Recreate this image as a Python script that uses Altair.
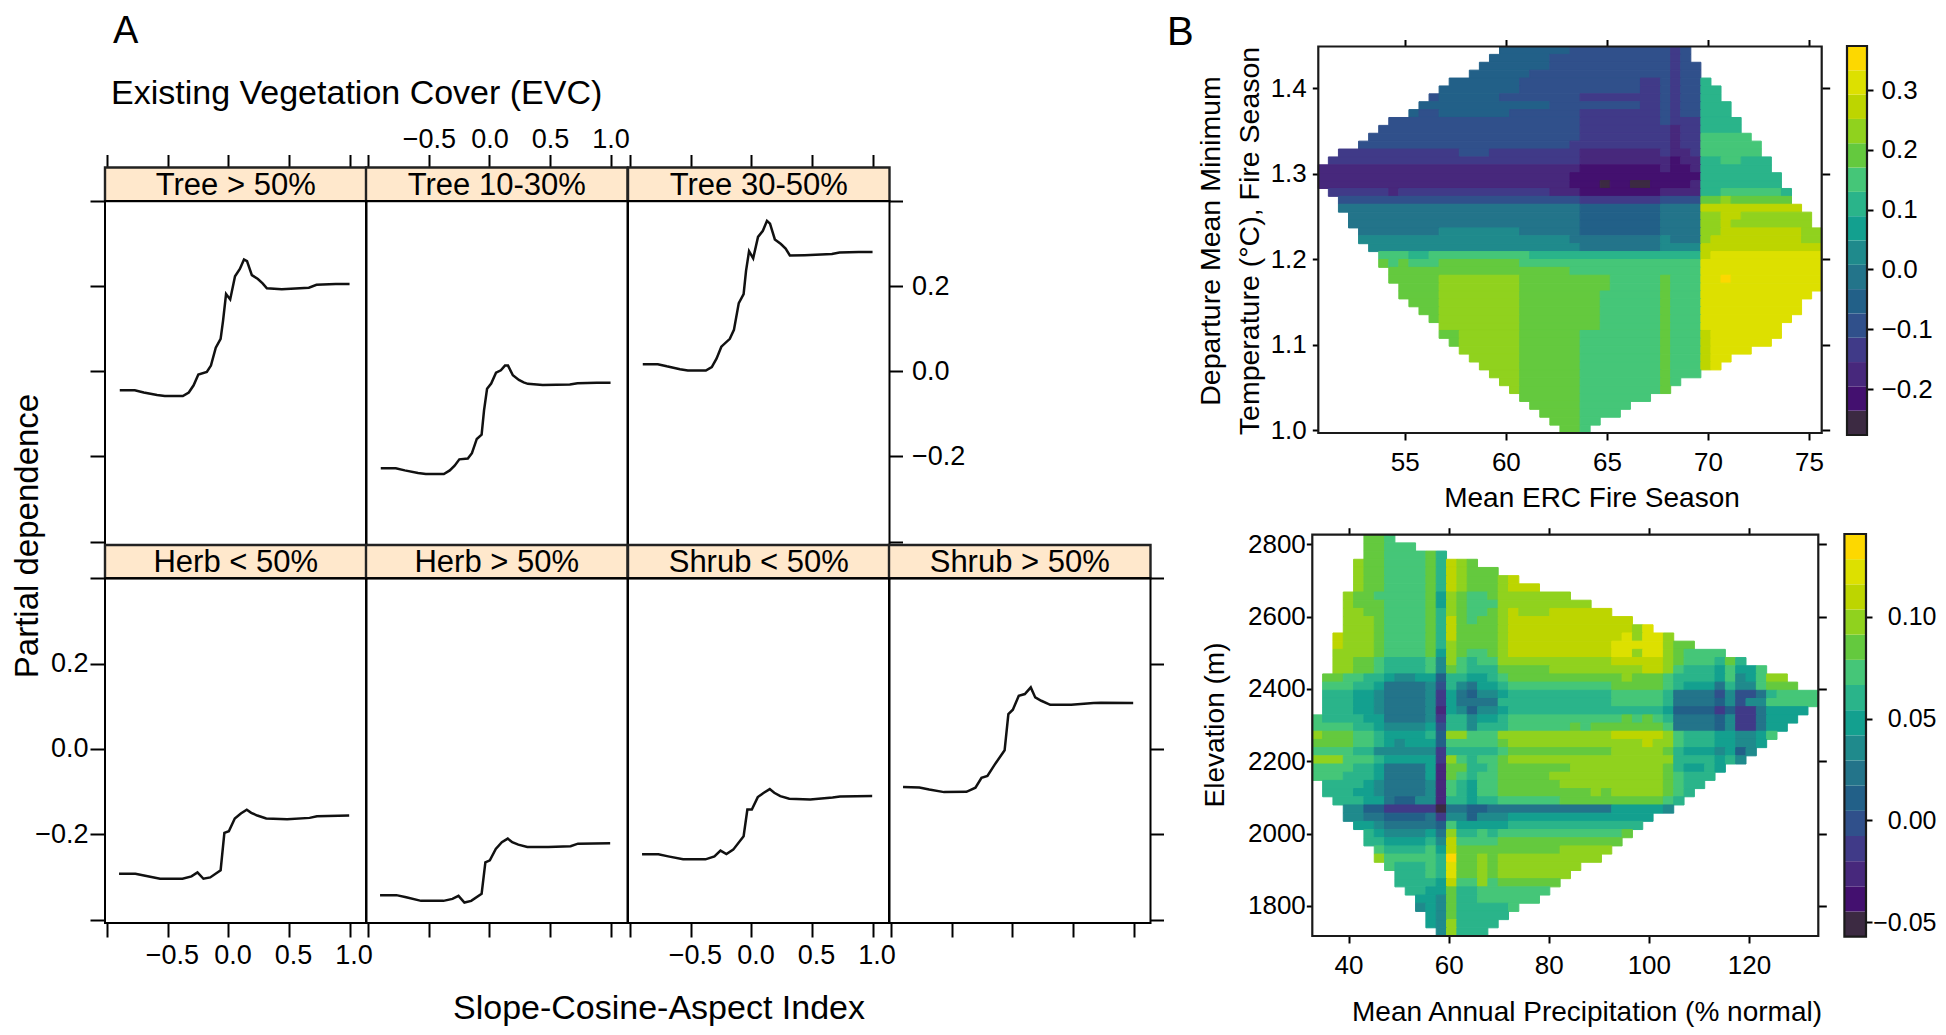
import altair as alt
import pandas as pd

# ---------- panel A: partial dependence curves ----------
tree_x = [-0.898,-0.774,-0.70,-0.59,-0.526,-0.377,-0.328,-0.288,-0.249,-0.179,-0.145,-0.105,-0.065,-0.045,-0.02,0.014,0.054,0.094,0.128,0.153,0.193,0.243,0.282,0.317,0.44,0.664,0.727,0.886,1.0]
tree_gt50 = [-0.0445,-0.0445,-0.0496,-0.0555,-0.058,-0.058,-0.0496,-0.0327,-0.0075,-0.0016,0.0136,0.0555,0.0765,0.1186,0.1816,0.169,0.2235,0.2405,0.263,0.2588,0.226,0.217,0.2068,0.195,0.193,0.1967,0.2033,0.205,0.205]
tree_10_30 = [-0.2277,-0.2277,-0.2327,-0.2386,-0.2411,-0.2411,-0.2327,-0.2218,-0.2067,-0.205,-0.1924,-0.1588,-0.1487,-0.0915,-0.0411,-0.0285,-0.0033,0.0026,0.0135,0.0135,-0.0092,-0.0202,-0.0261,-0.0294,-0.032,-0.0311,-0.0277,-0.0269,-0.0269]
tree_30_50 = [0.0169,0.0169,0.0118,0.0051,0.0018,0.0018,0.0101,0.0303,0.058,0.0765,0.0975,0.1605,0.1816,0.2362,0.2824,0.2656,0.316,0.3303,0.3538,0.3471,0.3101,0.2992,0.2883,0.2723,0.2731,0.2757,0.279,0.2807,0.2807]
low_x = [-0.904,-0.769,-0.688,-0.565,-0.38,-0.306,-0.256,-0.207,-0.151,-0.065,-0.034,0.003,0.052,0.102,0.151,0.188,0.238,0.312,0.485,0.67,0.731,0.997]
herb_lt50 = [-0.2925,-0.2925,-0.2973,-0.3043,-0.3043,-0.2988,-0.2894,-0.3043,-0.3012,-0.2847,-0.1969,-0.1929,-0.1631,-0.1514,-0.1427,-0.1498,-0.1561,-0.1631,-0.1647,-0.1616,-0.1576,-0.1561]
herb_gt50 = [-0.3427,-0.3427,-0.3475,-0.3561,-0.3561,-0.3514,-0.3443,-0.36,-0.3561,-0.3396,-0.2659,-0.2612,-0.2345,-0.2188,-0.2102,-0.2188,-0.2243,-0.2298,-0.2298,-0.2282,-0.222,-0.2212]
shrub_lt50 = [-0.2471,-0.2471,-0.2518,-0.2588,-0.2588,-0.2518,-0.2384,-0.2463,-0.2361,-0.2047,-0.142,-0.142,-0.1129,-0.1027,-0.0941,-0.1027,-0.1106,-0.1169,-0.1184,-0.1137,-0.1114,-0.1106]
shrub_gt50 = [-0.0894,-0.0902,-0.0949,-0.1012,-0.1004,-0.091,-0.0675,-0.0635,-0.0384,-0.0031,0.0816,0.0918,0.1247,0.1286,0.1443,0.1208,0.1129,0.1035,0.1035,0.1075,0.1082,0.1075]

top_labels = ["Tree > 50%", "Tree 10-30%", "Tree 30-50%"]
bottom_labels = ["Herb < 50%", "Herb > 50%", "Shrub < 50%", "Shrub > 50%"]
x_ticks = [-1.0, -0.5, 0.0, 0.5, 1.0]
y_ticks = [-0.4, -0.2, 0.0, 0.2, 0.4]

# ---------- panel B: level rows, "start:level" runs, "." ends the row ----------
erc_rows = [
"18:5 25:4 35:3 36:4 37:.",
"17:5 23:4 35:3 36:4 37:.",
"16:5 23:4 35:3 36:4 38:.",
"15:5 21:4 35:3 36:4 38:.",
"13:5 20:4 32:3 34:4 35:3 36:4 38:9 39:.",
"12:5 20:4 32:3 34:4 35:3 36:4 38:9 40:.",
"11:4 12:5 18:4 26:3 34:4 35:3 36:4 38:9 40:.",
"10:5 23:4 32:3 34:4 35:3 36:4 38:9 41:.",
"9:5 10:4 12:5 19:4 26:3 34:4 35:3 36:4 38:9 41:.",
"7:4 26:3 34:4 35:3 38:9 42:.",
"6:4 26:3 35:2 36:3 38:9 42:.",
"5:4 26:3 35:2 36:3 38:a 43:.",
"4:4 25:3 35:2 36:3 38:a 44:.",
"2:3 14:4 17:3 26:2 34:3 35:2 37:3 38:a 44:.",
"1:3 26:2 35:1 36:2 38:9 40:a 42:9 45:.",
"0:2 26:1 34:2 35:1 37:2 38:9 45:.",
"0:2 25:1 38:9 46:.",
"0:2 25:1 28:0 29:1 31:0 33:1 37:2 38:9 46:.",
"1:3 7:2 8:3 23:2 26:1 34:2 38:9 40:a 46:9 47:.",
"2:4 26:3 34:4 38:b 40:c 41:b 47:.",
"2:6 26:5 34:6 38:d 48:.",
"3:6 26:5 34:6 38:c 40:d 42:c 49:.",
"3:6 26:5 34:6 38:c 40:d 41:c 49:.",
"4:6 12:7 20:6 26:5 34:6 38:c 40:d 48:c 50:.",
"4:7 25:6 34:7 35:6 38:c 39:d 48:c 50:.",
"5:7 26:6 34:7 38:d 50:.",
"6:a 9:9 11:a 21:9 38:d 39:e 50:.",
"6:b 7:a 8:b 9:a 12:b 20:a 38:e 50:.",
"7:b 25:a 38:e 50:.",
"7:b 12:c 20:b 29:a 34:b 35:a 38:e 40:f 41:e 50:.",
"8:b 12:c 20:b 29:a 34:b 35:a 38:e 50:.",
"8:b 12:c 20:b 28:a 34:b 35:a 38:e 49:.",
"9:b 12:c 20:b 28:a 34:b 35:a 38:e 48:.",
"10:b 12:c 20:b 28:a 34:b 35:a 38:e 48:.",
"11:b 12:c 20:b 28:a 34:b 35:a 38:e 47:.",
"12:c 20:b 28:a 34:b 35:a 38:e 46:.",
"12:b 14:c 20:b 26:a 34:b 35:a 38:d 39:e 46:.",
"13:b 14:c 20:b 26:a 34:b 35:a 38:d 39:e 45:.",
"14:c 20:b 26:a 34:b 35:a 38:d 39:e 43:.",
"15:c 20:b 26:a 34:b 35:a 38:d 39:e 41:.",
"16:c 20:b 26:a 34:b 35:a 38:d 39:e 40:.",
"17:c 20:b 26:a 34:b 35:a 38:.",
"18:c 20:b 26:a 34:b 35:a 36:.",
"19:c 20:b 26:a 34:b 35:.",
"20:b 26:a 33:.",
"21:b 26:a 31:.",
"22:b 26:a 30:.",
"23:b 26:a 28:.",
"24:b 26:a 27:.",
]
precip_rows = [
"5:b 7:a 8:.",
"5:b 7:a 10:.",
"5:b 7:a 11:b 12:9 13:.",
"4:c 5:b 7:a 11:b 12:9 13:d 14:c 15:b 16:.",
"4:c 5:b 7:a 11:b 12:9 13:d 14:c 15:b 18:.",
"4:c 5:b 7:a 11:b 12:9 13:d 14:c 15:b 18:c 19:d 20:.",
"4:c 5:b 7:a 11:b 12:9 13:d 14:c 15:b 18:c 19:d 22:.",
"3:c 4:b 6:a 11:b 12:8 13:c 14:b 15:a 17:b 18:c 25:.",
"3:c 4:b 7:a 11:b 12:8 13:c 14:b 15:a 18:c 27:.",
"3:c 5:b 7:a 11:b 12:9 13:c 14:b 15:a 17:b 18:c 19:d 20:c 23:d 29:.",
"3:c 6:b 7:a 11:b 12:9 13:d 14:b 15:a 16:b 18:c 19:d 31:.",
"3:c 6:b 7:a 11:b 12:9 13:d 14:b 18:c 19:d 31:c 32:e 33:.",
"2:d 3:c 6:b 7:a 11:b 12:9 13:d 14:b 18:c 19:d 30:e 31:c 32:e 34:c 35:.",
"2:d 3:c 6:b 7:a 11:b 12:9 13:c 14:b 18:c 19:d 29:e 34:c 35:b 37:.",
"2:c 6:b 7:a 11:b 12:8 13:c 14:b 15:a 17:b 18:c 19:d 29:e 31:c 32:e 34:c 35:b 36:a 40:.",
"2:c 4:b 6:a 7:9 11:a 12:7 13:c 14:a 15:9 16:a 18:c 29:d 34:c 35:b 36:a 39:9 40:b 41:9 42:.",
"2:c 4:b 6:a 7:9 11:a 12:7 13:b 14:a 15:9 18:b 23:c 32:d 34:c 35:a 36:9 39:8 40:a 41:8 43:a 44:.",
"1:b 3:a 5:9 7:8 8:7 10:8 12:5 13:9 15:8 17:9 18:a 19:b 30:c 31:b 34:a 35:9 39:8 40:a 41:7 42:8 43:a 44:c 46:.",
"1:a 4:9 6:8 7:6 11:7 12:4 13:9 14:7 15:6 16:8 18:9 19:a 29:b 34:a 35:9 36:8 39:6 40:9 41:7 43:a 44:b 47:.",
"1:9 4:8 6:7 7:6 11:7 12:3 13:8 14:6 15:5 16:7 18:8 19:9 29:a 34:9 35:6 39:4 40:7 41:4 43:6 44:9 45:a 49:.",
"1:9 4:8 6:7 7:6 11:7 12:3 13:8 14:6 18:9 29:a 34:9 35:6 39:5 40:7 41:4 42:7 44:a 49:.",
"1:9 4:8 6:7 7:6 11:7 12:2 13:8 14:7 15:5 16:7 18:8 19:9 34:8 35:5 39:3 40:5 41:3 43:6 44:8 48:.",
"0:a 1:9 5:8 7:6 11:7 12:3 13:9 15:7 16:8 18:9 19:a 30:b 31:a 32:b 33:a 34:9 35:6 39:5 40:7 41:3 43:6 44:8 47:.",
"0:a 4:9 6:8 7:7 11:8 12:4 13:9 15:7 16:9 19:a 25:b 26:a 27:b 34:a 35:6 39:5 40:7 41:3 43:6 44:8 46:.",
"0:c 1:b 4:a 6:9 7:8 11:9 12:5 13:c 15:a 18:c 29:d 34:c 35:a 36:9 39:8 41:7 43:8 44:a 45:.",
"0:b 4:a 6:9 7:8 8:7 9:8 12:5 13:a 18:b 19:c 32:d 33:c 35:a 36:9 39:8 41:7 43:8 44:.",
"0:a 4:9 6:7 12:3 13:9 18:a 19:b 29:c 34:b 35:9 36:8 39:7 40:8 41:5 42:7 43:.",
"0:c 3:a 6:9 7:8 12:3 13:c 14:a 15:9 16:a 18:b 19:c 35:9 39:8 40:9 41:7 42:.",
"0:a 4:9 6:8 7:6 11:8 12:2 13:b 15:9 17:a 18:b 25:c 34:b 35:9 36:8 38:9 39:8 40:.",
"0:a 3:9 6:8 7:6 11:8 12:2 13:b 14:a 15:9 16:a 18:b 23:c 34:b 35:a 36:9 39:.",
"1:9 5:8 6:7 7:6 11:7 12:2 13:a 14:9 15:8 16:a 18:b 24:c 34:b 35:a 36:9 38:.",
"1:9 4:8 6:7 7:6 11:7 12:2 13:a 14:9 15:8 16:a 18:b 27:c 28:b 29:c 34:b 35:a 36:9 37:.",
"2:9 5:8 7:6 8:5 10:7 12:2 13:9 15:8 16:9 18:a 24:b 34:a 35:9 36:.",
"3:7 5:5 7:3 12:0 13:6 15:5 17:6 29:8 34:7 35:.",
"3:7 5:6 7:5 11:6 12:3 13:7 15:5 16:7 19:8 33:.",
"4:8 6:7 7:6 12:5 13:a 14:8 19:9 32:.",
"5:9 6:8 7:7 11:8 12:6 13:c 14:9 16:a 17:9 18:a 30:b 31:.",
"5:9 7:8 11:9 12:7 13:d 14:a 18:b 30:.",
"6:a 7:9 11:a 12:8 13:d 14:b 24:c 29:.",
"6:c 7:a 12:9 13:f 14:b 16:c 17:b 18:c 28:.",
"7:a 8:9 11:a 12:9 13:e 14:b 16:c 17:b 18:c 26:.",
"8:9 11:a 12:9 13:e 14:b 16:c 17:b 18:c 25:.",
"8:9 12:8 13:d 14:a 16:c 17:a 18:b 24:.",
"9:9 11:8 13:b 14:9 16:a 23:.",
"10:8 12:7 13:b 14:9 16:a 22:.",
"10:7 11:8 12:7 13:b 14:9 19:a 20:.",
"11:8 12:7 13:b 14:9 19:.",
"11:8 12:7 13:c 14:9 18:.",
"12:7 13:c 14:9 17:.",
]
level_keys = list("0123456789abcdef")
level_colors = ["#3c2a42","#43106f","#47287c","#403a88","#30508b","#226088","#23748a","#1f8a8c",
                "#13a08f","#2ab48a","#45c678","#64c93e","#90d21e","#bdd500","#dde000","#fdd800"]

erc_limits = [50.72, 75.63]
dep_limits = [0.997, 1.449]
precip_limits = [32.76, 133.86]
elev_limits = [1717.0, 2826.5]
bar1_limits = [-0.2769, 0.3736]
bar2_limits = [-0.057, 0.1405]

# pixel frames (page coordinates)
W, H = 1930, 1019
def px(v): return v - 8
col_left = [105, 366, 628, 889]
panel_w = 261.5
TOP = (167.5, 545)      # strip top, panel bottom
BOT = (545, 923)
FONT = "Liberation Sans"

axis_common = dict(grid=False, domain=False, tickColor="black", tickWidth=2, labelColor="black",
                   labelFont=FONT, labelOverlap=False, labelBound=False, labelFlush=False, title=None)

def panel(xs, ys, label, col, top_row):
    x_dom = [-1.02, 1.14]
    y_dom = [-0.408, 0.479 if top_row else 0.478]
    left = col_left[col]
    rng = TOP if top_row else BOT
    xs_scale = alt.Scale(domain=x_dom, range=[px(left), px(left + panel_w)], nice=False, zero=False)
    ys_scale = alt.Scale(domain=y_dom, range=[px(rng[1]), px(rng[0])], nice=False, zero=False)
    line_df = pd.DataFrame({"x": xs, "y": ys})
    strip_lo = 0.4
    box = pd.DataFrame([dict(x0=x_dom[0], x1=x_dom[1], y0=y_dom[0], y1=strip_lo)])
    strip = pd.DataFrame([dict(x0=x_dom[0], x1=x_dom[1], y0=strip_lo, y1=y_dom[1], label=label,
                               xm=(x_dom[0] + x_dom[1]) / 2, ym=(strip_lo + y_dom[1]) / 2 - 0.004)])
    if top_row:
        x_axis = alt.Axis(orient="top", offset=-px(rng[0]), values=x_ticks, tickSize=13, format=".1f",
                          labels=(col == 1), labelFontSize=27, labelPadding=1,
                          labelExpr="datum.value < -0.9 ? '' : datum.label", **axis_common)
    else:
        x_axis = alt.Axis(orient="bottom", offset=-(H - px(rng[1])), values=x_ticks, tickSize=14, format=".1f",
                          labels=(col in (0, 2)), labelFontSize=27, labelPadding=5, labelOffset=4,
                          labelExpr="datum.value < -0.9 ? '' : datum.label", **axis_common)
    y_axis = None
    if top_row and col == 2:
        y_axis = alt.Axis(orient="right", offset=-(W - px(left + panel_w)), values=y_ticks, tickSize=13, format=".1f",
                          labelFontSize=27, labelPadding=9,
                          labelExpr="abs(datum.value) > 0.3 ? '' : datum.label", **axis_common)
    elif (not top_row) and col == 3:
        y_axis = alt.Axis(orient="right", offset=-(W - px(left + panel_w)), values=y_ticks, tickSize=13,
                          labels=False, **axis_common)
    elif col == 0:
        y_axis = alt.Axis(orient="left", offset=-px(left), values=y_ticks, tickSize=15, format=".1f",
                          labels=not top_row, labelFontSize=27, labelPadding=2,
                          labelExpr="abs(datum.value) > 0.3 ? '' : datum.label", **axis_common)
    layers = []
    layers.append(alt.Chart(strip).mark_rect(fill="#ffe8cc", stroke="#222222", strokeWidth=2.4).encode(
        x=alt.X("x0:Q", scale=xs_scale, axis=x_axis), x2="x1:Q",
        y=alt.Y("y0:Q", scale=ys_scale, axis=y_axis), y2="y1:Q"))
    layers.append(alt.Chart(box).mark_rect(fill="white", fillOpacity=0, stroke="black", strokeWidth=2).encode(
        x=alt.X("x0:Q", scale=xs_scale, axis=None), x2="x1:Q",
        y=alt.Y("y0:Q", scale=ys_scale, axis=None), y2="y1:Q"))
    layers.append(alt.Chart(line_df).mark_line(color="#111111", strokeWidth=2.5).encode(
        x=alt.X("x:Q", scale=xs_scale, axis=None),
        y=alt.Y("y:Q", scale=ys_scale, axis=None)))
    layers.append(alt.Chart(strip).mark_text(font=FONT, fontSize=31, color="black", baseline="middle").encode(
        x=alt.X("xm:Q", scale=xs_scale, axis=None),
        y=alt.Y("ym:Q", scale=ys_scale, axis=None), text="label:N"))
    return layers

def expand(rows, xlim, ylim, ncol):
    out = []
    xstep = (xlim[1] - xlim[0]) / ncol
    ystep = (ylim[1] - ylim[0]) / len(rows)
    for r, row in enumerate(rows):
        parts = [p.split(":") for p in row.split()]
        for (a, lev), (b, _) in zip(parts[:-1], parts[1:]):
            out.append(dict(x0=xlim[0] + int(a) * xstep, x1=xlim[0] + int(b) * xstep,
                            y1=ylim[1] - r * ystep, y0=ylim[1] - (r + 1) * ystep, level=lev))
    return pd.DataFrame(out)

lev_scale = alt.Scale(domain=level_keys, range=level_colors)

def heat(rows, xlim, ylim, ncol, frame, xvals, yvals, bar_frame, bar_lim, bar_vals, bar_fmt, ypad, xlab_fmt, ylab_fmt, tsize, bar_axis):
    l, r, t, b = frame
    xs = alt.Scale(domain=xlim, range=[px(l), px(r)], nice=False, zero=False)
    ys = alt.Scale(domain=ylim, range=[px(b), px(t)], nice=False, zero=False)
    cells = expand(rows, xlim, ylim, ncol)
    box = pd.DataFrame([dict(x0=xlim[0], x1=xlim[1], y0=ylim[0], y1=ylim[1])])
    layers = [
        alt.Chart(cells).mark_rect(strokeWidth=1).encode(
            x=alt.X("x0:Q", scale=xs, axis=alt.Axis(orient="bottom", offset=-(H - px(b)), values=xvals, tickSize=7,
                    format=xlab_fmt, labelFontSize=tsize, labelPadding=9, **axis_common)), x2="x1:Q",
            y=alt.Y("y0:Q", scale=ys, axis=alt.Axis(orient="left", offset=-px(l), values=yvals, tickSize=6,
                    format=ylab_fmt, labelFontSize=tsize, labelPadding=ypad, **axis_common)), y2="y1:Q",
            fill=alt.Fill("level:N", scale=lev_scale, legend=None),
            stroke=alt.Stroke("level:N", scale=lev_scale, legend=None)),
        alt.Chart(box).mark_rect(fill="white", fillOpacity=0, stroke="#1a1a1a", strokeWidth=2.2).encode(
            x=alt.X("x0:Q", scale=xs, axis=alt.Axis(orient="top", offset=-px(t), values=xvals, tickSize=7, labels=False, **axis_common)),
            x2="x1:Q",
            y=alt.Y("y0:Q", scale=ys, axis=alt.Axis(orient="right", offset=-(W - px(r)), values=yvals, tickSize=8, labels=False, **axis_common)),
            y2="y1:Q"),
    ]
    bl, br, bt, bb = bar_frame
    step = (bar_lim[1] - bar_lim[0]) / len(level_keys)
    bar = pd.DataFrame([dict(y0=bar_lim[0] + i * step, y1=bar_lim[0] + (i + 1) * step, level=k)
                        for i, k in enumerate(level_keys)])
    bs = alt.Scale(domain=bar_lim, range=[px(bb), px(bt)], nice=False, zero=False)
    bar_box = pd.DataFrame([dict(y0=bar_lim[0], y1=bar_lim[1])])
    layers.append(alt.Chart(bar).mark_rect().encode(
        x=alt.value(px(bl)), x2=alt.value(px(br)),
        y=alt.Y("y0:Q", scale=bs, axis=alt.Axis(orient="right", offset=-(W - px(br)), values=bar_vals, tickSize=6,
                format=bar_fmt, **bar_axis, **axis_common)), y2="y1:Q",
        fill=alt.Fill("level:N", scale=lev_scale, legend=None)))
    layers.append(alt.Chart(bar_box).mark_rect(fill="white", fillOpacity=0, stroke="#1a1a1a", strokeWidth=2.2).encode(
        x=alt.value(px(bl)), x2=alt.value(px(br)),
        y=alt.Y("y0:Q", scale=bs, axis=None), y2="y1:Q"))
    return layers

def label(text, x, y, size, angle=0, align="center"):
    return alt.Chart(pd.DataFrame({"t": [text]})).mark_text(
        font=FONT, fontSize=size, angle=angle, align=align, baseline="alphabetic", color="black"
    ).encode(x=alt.value(px(x)), y=alt.value(px(y)), text="t:N")

layers = []
layers += panel(tree_x, tree_gt50, top_labels[0], 0, True)
layers += panel(tree_x, tree_10_30, top_labels[1], 1, True)
layers += panel(tree_x, tree_30_50, top_labels[2], 2, True)
layers += panel(low_x, herb_lt50, bottom_labels[0], 0, False)
layers += panel(low_x, herb_gt50, bottom_labels[1], 1, False)
layers += panel(low_x, shrub_lt50, bottom_labels[2], 2, False)
layers += panel(low_x, shrub_gt50, bottom_labels[3], 3, False)

layers += heat(erc_rows, erc_limits, dep_limits, 50, (1318.3, 1821.7, 46.5, 433),
               [55, 60, 65, 70, 75], [1.0, 1.1, 1.2, 1.3, 1.4],
               (1847, 1867, 46, 435), bar1_limits, [-0.2, -0.1, 0.0, 0.1, 0.2, 0.3], ".1f", 6, "d", ".1f", 26,
               dict(labelFontSize=26, labelPadding=8))
layers += heat(precip_rows, precip_limits, elev_limits, 49, (1312.3, 1818.3, 534.7, 936),
               [40, 60, 80, 100, 120], [1800, 2000, 2200, 2400, 2600, 2800],
               (1844.4, 1866, 534, 936.7), bar2_limits, [-0.05, 0.0, 0.05, 0.10], ".2f", 1, "d", "d", 26,
               dict(labelFontSize=25, labelPadding=64, labelAlign="right"))

layers += [
    label("A", 113, 43, 38, align="left"),
    label("B", 1167, 45, 40, align="left"),
    label("Existing Vegetation Cover (EVC)", 111, 104, 34, align="left"),
    label("Slope-Cosine-Aspect Index", 659, 1019, 34),
    label("Partial dependence", 38, 536, 33, angle=270),
    label("Mean ERC Fire Season", 1592, 507, 28),
    label("Mean Annual Precipitation (% normal)", 1587, 1021, 28),
    label("Departure Mean Minimum", 1220, 241, 28.5, angle=270),
    label("Temperature (°C), Fire Season", 1259, 241, 28.5, angle=270),
    label("Elevation (m)", 1224, 725, 28, angle=270),
]

chart = alt.layer(*layers).resolve_scale(
    x="independent", y="independent", fill="independent", stroke="independent"
).properties(width=W, height=H, padding=0, autosize="none", background="white"
).configure_view(stroke=None)

chart.save("out.html", embed_options={"renderer": "svg", "actions": False})
